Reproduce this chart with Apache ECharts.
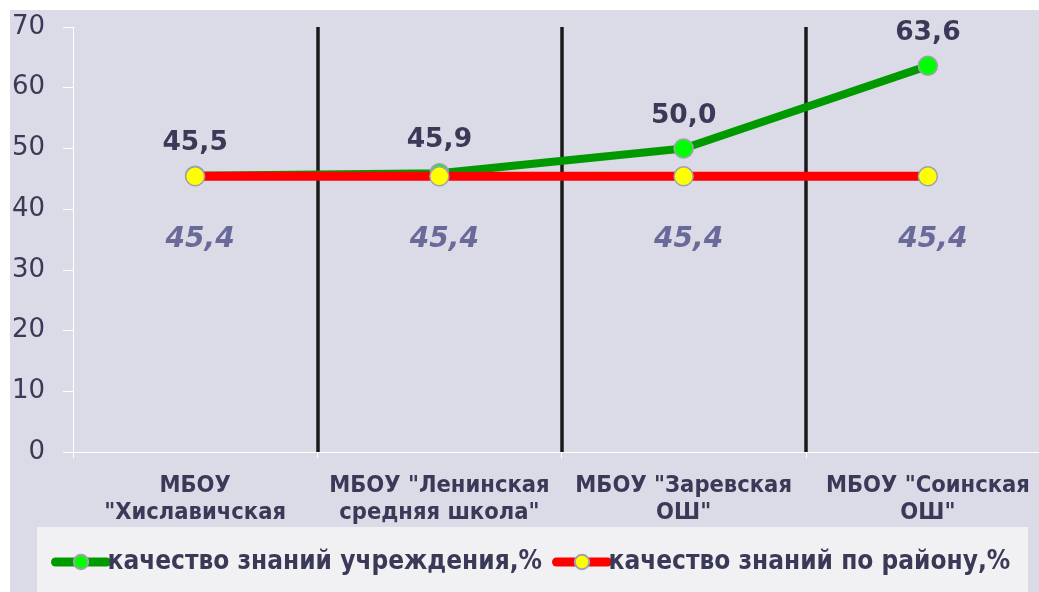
<!DOCTYPE html>
<html><head><meta charset="utf-8">
<script src="https://cdn.jsdelivr.net/npm/echarts@6/dist/echarts.min.js"></script>
<style>html,body{margin:0;padding:0;background:#fff;overflow:hidden}#c{width:1050px;height:592px}</style>
</head><body><div id="c"></div>
<script>
const categories = ['МБОУ\n"Хиславичская', 'МБОУ "Ленинская\nсредняя школа"', 'МБОУ "Заревская\nОШ"', 'МБОУ "Соинская\nОШ"'];
const schoolQuality = [45.5, 45.9, 50.0, 63.6];
const districtQuality = [45.4, 45.4, 45.4, 45.4];
const seriesNames = ['качество знаний учреждения,%', 'качество знаний по району,%'];
const yTicks = {min: 0, max: 70, interval: 10};

const fmt = p => p.value.toFixed(1).replace('.', ',');
const chart = echarts.init(document.getElementById('c'), null, {renderer: 'canvas'});
chart.setOption({
  backgroundColor: '#ffffff',
  animation: false,
  graphic: [
    {type: 'rect', z: -10, shape: {x: 10, y: 10, width: 1040, height: 582}, style: {fill: '#dbdbe7'}},
    {type: 'rect', z: -9, shape: {x: 37, y: 527, width: 991, height: 70}, style: {fill: '#f1f1f4'}}
  ],
  grid: {left: 73, top: 27, right: 0, bottom: 140, containLabel: false, outerBoundsMode: 'none'},
  xAxis: {
    type: 'category', data: categories, boundaryGap: true,
    axisLine: {show: true, lineStyle: {color: '#ffffff', width: 1}},
    axisTick: {show: true, length: 6, lineStyle: {color: '#ffffff'}},
    splitLine: {show: true, lineStyle: {color: ['rgba(0,0,0,0)', '#1a1a1a', '#1a1a1a', '#1a1a1a', 'rgba(0,0,0,0)'], width: 3.5}},
    axisLabel: {margin: 20, fontFamily: 'DejaVu Sans Condensed', fontWeight: 'bold', fontSize: 23.5, color: '#3a3a58', lineHeight: 27, interval: 0}
  },
  yAxis: {
    type: 'value', min: yTicks.min, max: yTicks.max, interval: yTicks.interval,
    axisLine: {show: true, lineStyle: {color: '#ffffff', width: 1}},
    axisTick: {show: true, length: 10, lineStyle: {color: '#ffffff'}},
    splitLine: {show: false},
    axisLabel: {margin: 28, fontFamily: 'DejaVu Sans', fontSize: 26, color: '#3a3a58'}
  },
  legend: {
    left: 51, top: 549, padding: 0, itemWidth: 51, itemHeight: 18, itemGap: 10,
    textStyle: {fontFamily: 'DejaVu Sans Condensed', fontWeight: 'bold', fontSize: 26, color: '#3a3a58', padding: [0,0,0,-4]},
    data: [
      {name: seriesNames[0], lineStyle: {width: 9, cap: 'round'}},
      {name: seriesNames[1], lineStyle: {width: 9, cap: 'round'}}
    ]
  },
  series: [
    {
      name: seriesNames[0], type: 'line', data: schoolQuality, z: 3,
      symbol: 'circle', symbolSize: 19,
      lineStyle: {color: '#009a00', width: 8},
      itemStyle: {color: '#00ff00', borderColor: '#a0a0b0', borderWidth: 1.5},
      label: {show: true, position: 'top', distance: 9, formatter: fmt, fontFamily: 'DejaVu Sans', fontWeight: 'bold', fontSize: 26.5, color: '#3a3a58'}
    },
    {
      name: seriesNames[1], type: 'line', data: districtQuality, z: 4,
      symbol: 'circle', symbolSize: 19,
      lineStyle: {color: '#ff0000', width: 9},
      itemStyle: {color: '#ffff00', borderColor: '#a0a0b0', borderWidth: 1.5},
      label: {show: true, position: 'bottom', distance: 39, offset: [5, 0], formatter: fmt, fontFamily: 'DejaVu Sans', fontWeight: 'bold', fontStyle: 'italic', fontSize: 28, color: '#6a6a9a'}
    }
  ]
});
</script></body></html>
